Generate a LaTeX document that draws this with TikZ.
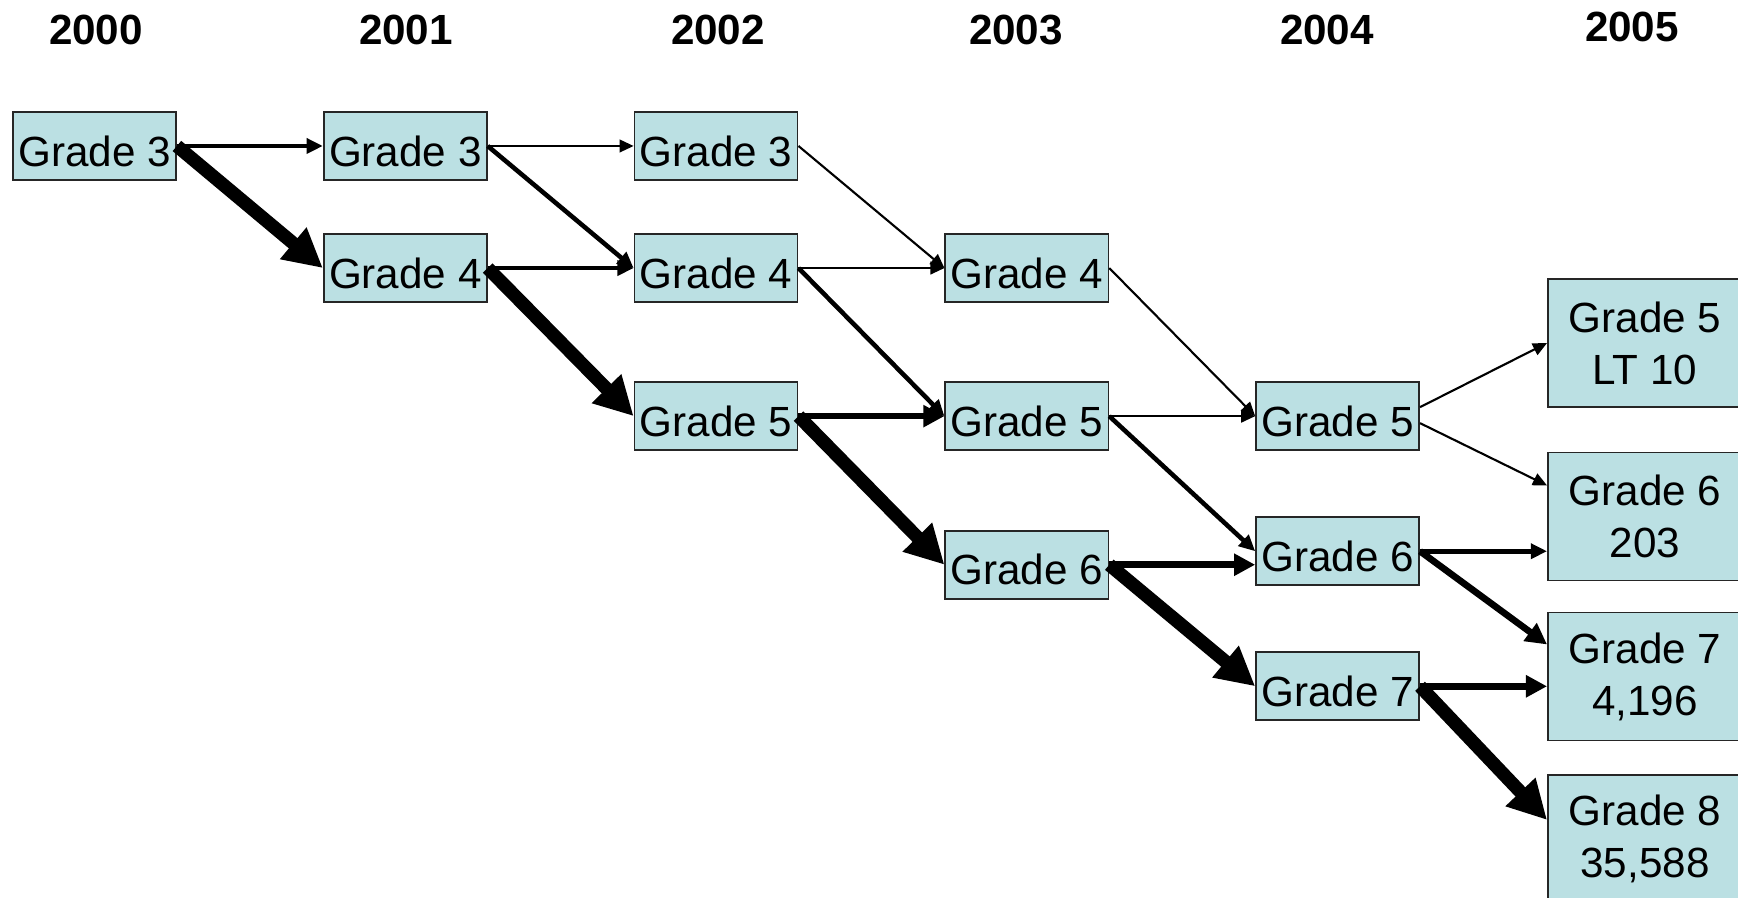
\documentclass[tikz,border=0pt]{standalone}
\usepackage{fontspec}
\setmainfont{Liberation Sans}
\usetikzlibrary{arrows.meta}

\definecolor{boxblue}{RGB}{187,224,227}

\begin{document}
\begin{tikzpicture}[x=0.01cm, y=-0.01cm, node distance=3.106cm,
                    box node/.style={rectangle,draw=black!85,line width=0.5pt,fill=boxblue,
                      inner sep=0pt,font=\fontsize{12}{14.8}\selectfont},
                    grade node/.style={box node,minimum width=1.63cm,minimum height=0.68cm,
                      text height=11.4pt,text depth=0pt},
                    total node/.style={box node,minimum width=1.94cm,minimum height=1.28cm,align=center},
                    year node/.style={font=\fontsize{12}{14.8}\selectfont\bfseries},
                    thin flow/.style={line width=0.6pt,-{Triangle[length=4pt,width=3.6pt]}},
                    mid flow/.style={line width=1.3pt,-{Triangle[length=4.6pt,width=4.2pt]}},
                    heavy flow/.style={line width=1.9pt,-{Triangle[length=6pt,width=6pt]}},
                    huge flow/.style={line width=3.8pt,-{Triangle[length=11pt,width=11pt]}}]

  \useasboundingbox (0,0) rectangle (1738,898);

  \node[year node] (y2000) at (96,30) {2000};
  \node[year node] (y2001) at (406,30) {2001};
  \node[year node] (y2002) at (718,30) {2002};
  \node[year node] (y2003) at (1016,30) {2003};
  \node[year node] (y2004) at (1327,30) {2004};
  \node[year node] (y2005) at (1632,27) {2005};

  \node[grade node] (c0g3) at (94.5,146) {Grade 3};
  \node[grade node] (c1g3) [right of=c0g3] {Grade 3};
    \node[grade node] (c2g3) [right of=c1g3] {Grade 3};
  \node[grade node] (c1g4) [node distance=1.22cm, below of=c1g3] {Grade 4};
    \node[grade node] (c2g4) [right of=c1g4] {Grade 4};
      \node[grade node] (c3g4) [right of=c2g4] {Grade 4};
  \node[grade node] (c2g5) [node distance=1.48cm, below of=c2g4] {Grade 5};
    \node[grade node] (c3g5) [right of=c2g5] {Grade 5};
      \node[grade node] (c4g5) [right of=c3g5] {Grade 5};
  \node[grade node] (c3g6) [node distance=1.485cm, below of=c3g5] {Grade 6};
  \node[grade node] (c4g6) [node distance=1.35cm, below of=c4g5] {Grade 6};
  \node[grade node] (c4g7) [node distance=1.35cm, below of=c4g6] {Grade 7};

  \node[total node] (c5g5) at (1645,343) {Grade 5\\LT 10};
  \node[total node] (c5g6) at (1645,516.5) {Grade 6\\203};
  \node[total node] (c5g7) at (1645,676.5) {Grade 7\\4,196};
  \node[total node] (c5g8) at (1645,839) {Grade 8\\35,588};

  \path
    (c0g3.east) edge[mid flow] (c1g3.west)
    (c0g3.east) edge[huge flow] (c1g4.west)

    (c1g3.east) edge[thin flow] (c2g3.west)
    (c1g3.east) edge[mid flow] (c2g4.west)
    (c1g4.east) edge[mid flow] (c2g4.west)
    (c1g4.east) edge[huge flow] (c2g5.west)

    (c2g3.east) edge[thin flow] (c3g4.west)
    (c2g4.east) edge[thin flow] (c3g4.west)
    (c2g4.east) edge[mid flow] (c3g5.west)
    (c2g5.east) edge[heavy flow] (c3g5.west)
    (c2g5.east) edge[huge flow] (c3g6.west)

    (c3g4.east) edge[thin flow] (c4g5.west)
    (c3g5.east) edge[thin flow] (c4g5.west)
    (c3g5.east) edge[mid flow] (c4g6.west)
    (c3g6.east) edge[heavy flow] (c3g6.east -| c4g6.west)
    (c3g6.east) edge[huge flow] (c4g7.west)

    ([yshift=0.09cm]c4g5.east) edge[thin flow] (c5g5.west)
    ([yshift=-0.07cm]c4g5.east) edge[thin flow] ([yshift=0.31cm]c5g6.west)
    (c4g6.east) edge[mid flow] (c4g6.east -| c5g6.west)
    (c4g6.east) edge[heavy flow] ([yshift=0.32cm]c5g7.west)
    (c4g7.east) edge[heavy flow] (c4g7.east -| c5g7.west)
    (c4g7.east) edge[huge flow] ([yshift=0.19cm]c5g8.west);

\end{tikzpicture}
\end{document}
